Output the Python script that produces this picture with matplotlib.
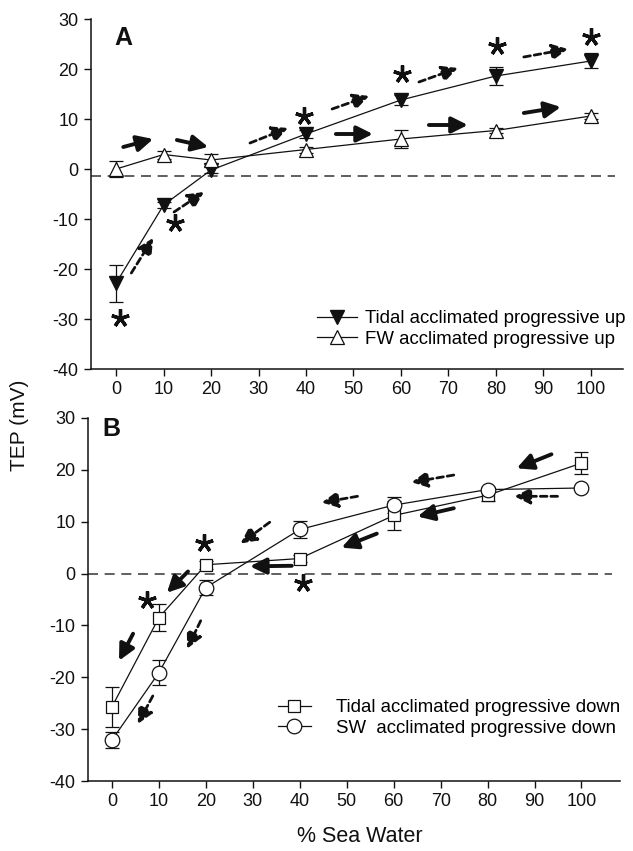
import matplotlib
matplotlib.use("Agg")
import matplotlib.pyplot as plt
from matplotlib.lines import Line2D

plt.rcParams['font.family'] = ['Liberation Sans', 'DejaVu Sans']
plt.rcParams['axes.unicode_minus'] = False

# ---------------- data ----------------
sea_water = [0, 10, 20, 40, 60, 80, 100]
x_ticks = [0, 10, 20, 30, 40, 50, 60, 70, 80, 90, 100]
y_ticks = [-40, -30, -20, -10, 0, 10, 20, 30]

# Panel A
tidal_up = [-22.8, -7.2, -0.2, 7.0, 13.8, 18.6, 21.6]
tidal_up_err = [3.7, 0.6, 0.6, 0.8, 1.0, 1.8, 1.5]
fw_up = [0.0, 2.9, 1.8, 3.9, 6.0, 7.7, 10.6]
fw_up_err = [1.6, 0.8, 1.2, 0.6, 1.8, 0.5, 0.6]
ref_line_A = -1.4

# Panel B
tidal_down = [-25.7, -8.5, 1.7, 2.9, 11.2, 15.1, 21.3]
tidal_down_err = [3.9, 2.6, 0.8, 0.6, 2.8, 1.2, 2.1]
sw_down = [-32.1, -19.1, -2.7, 8.5, 13.2, 16.2, 16.5]
sw_down_err = [1.5, 2.4, 1.5, 1.6, 1.5, 0.4, 0.4]
ref_line_B = 0.0

# annotations: arrows (x0, y0, x1, y1) in data coords, significance stars
arrows_A_solid = [(1.5, 4.4, 7.8, 6.0), (12.8, 5.8, 19.4, 4.4), (46.3, 7.0, 54.1, 7.0),
                  (65.9, 8.8, 74.1, 8.8), (85.9, 11.2, 93.7, 12.4)]
arrows_A_dashed = [(3.2, -20.8, 7.8, -13.8), (12.2, -8.6, 18.5, -4.6), (28.2, 5.2, 36.2, 8.2),
                   (45.5, 12.0, 53.3, 14.6), (63.8, 17.4, 72.0, 20.2), (85.9, 22.4, 95.2, 24.0)]
stars_A_x = [0.8, 12.4, 39.6, 60.2, 80.2, 100.0]
stars_A_y = [-29.8, -10.8, 10.6, 19.0, 24.6, 26.4]

arrows_B_solid = [(93.6, 23.0, 86.2, 20.3), (72.8, 12.6, 65.1, 11.0), (56.4, 7.7, 48.9, 5.0),
                  (38.3, 1.5, 29.4, 1.4), (16.2, 0.4, 11.7, -3.7), (4.5, -11.6, 1.5, -16.8)]
arrows_B_dashed = [(94.9, 14.9, 85.7, 14.9), (72.8, 19.0, 63.8, 17.6), (52.3, 14.9, 44.7, 13.7),
                   (33.6, 9.9, 27.4, 5.8), (18.9, -9.1, 16.0, -14.5), (8.7, -23.6, 5.5, -29.0)]
stars_B_x = [19.6, 7.4, 40.6]
stars_B_y = [5.8, -5.0, -1.9]

# ---------------- figure ----------------
W, H = 633, 851
fig = plt.figure(figsize=(W / 100, H / 100), dpi=100)

def px_axes(left, top, right, bottom):
    return fig.add_axes([left / W, 1 - bottom / H, (right - left) / W, (bottom - top) / H])

axA = px_axes(91, 19, 623, 369)
axB = px_axes(88, 418, 620, 781)

INK = '#111111'
TICK_FS = 13
LEG_FS = 13.4

def style_axis(ax, xlim):
    ax.set_xlim(*xlim)
    ax.set_ylim(-40, 30)
    ax.set_xticks(x_ticks)
    ax.set_yticks(y_ticks)
    for s in ['top', 'right']:
        ax.spines[s].set_visible(False)
    for s in ['left', 'bottom']:
        ax.spines[s].set_linewidth(1.1)
        ax.spines[s].set_color(INK)
    ax.tick_params(direction='out', length=5, width=1.0, labelsize=TICK_FS, colors=INK, pad=4)

def draw_arrows(ax, arrows, dashed):
    for (x0, y0, x1, y1) in arrows:
        if dashed:
            props = dict(arrowstyle='-|>,head_length=0.6,head_width=0.3', lw=2.0,
                         color=INK, shrinkA=0, shrinkB=0, mutation_scale=16,
                         linestyle=(0, (2.4, 1.4)))
        else:
            props = dict(arrowstyle='-|>,head_length=0.6,head_width=0.3', lw=2.8,
                         color=INK, shrinkA=0, shrinkB=0, mutation_scale=16)
        ax.annotate('', xy=(x1, y1), xytext=(x0, y0), arrowprops=props)

def draw_stars(ax, xs, ys):
    ax.plot(xs, ys, ls='none', marker=(5, 2, 0), ms=13, mew=2.4, color=INK, zorder=6)

# ---- Panel A ----
style_axis(axA, (-5.3, 106.8))
axA.axhline(ref_line_A, xmin=0, xmax=0.985, color='#444444', lw=1.2, dashes=(6, 4), zorder=1)
axA.errorbar(sea_water, tidal_up, yerr=tidal_up_err, color=INK, lw=0.9, marker='v', ms=10,
             mfc=INK, mec=INK, capsize=5, elinewidth=0.9, capthick=0.9, zorder=4,
             label='Tidal acclimated progressive up')
axA.errorbar(sea_water, fw_up, yerr=fw_up_err, color=INK, lw=0.9, marker='^', ms=10,
             mfc='white', mec=INK, mew=0.9, capsize=5, elinewidth=0.9, capthick=0.9, zorder=4,
             label='FW acclimated progressive up')
draw_arrows(axA, arrows_A_solid, False)
draw_arrows(axA, arrows_A_dashed, True)
draw_stars(axA, stars_A_x, stars_A_y)
axA.text(123 / W, 1 - 38 / H, 'A', transform=fig.transFigure, fontsize=18, fontweight='bold',
         ha='center', va='center', color=INK)

hA = [Line2D([], [], color=INK, lw=0.9, marker='v', ms=10, mfc=INK, mec=INK),
      Line2D([], [], color=INK, lw=0.9, marker='^', ms=10, mfc='white', mec=INK, mew=0.9)]
axA.legend(hA, ['Tidal acclimated progressive up', 'FW acclimated progressive up'],
           loc='center left', bbox_to_anchor=(317 / W, 1 - 329 / H), bbox_transform=fig.transFigure,
           frameon=False, fontsize=LEG_FS, borderpad=0, borderaxespad=0, handlelength=2.15,
           handletextpad=0.45, labelspacing=0.2)

# ---- Panel B ----
style_axis(axB, (-5.1, 108.2))
axB.axhline(ref_line_B, xmin=0, xmax=0.985, color='#444444', lw=1.2, dashes=(6, 4), zorder=1)
axB.errorbar(sea_water, tidal_down, yerr=tidal_down_err, color=INK, lw=0.9, marker='s', ms=9,
             mfc='white', mec=INK, mew=0.9, capsize=5, elinewidth=0.9, capthick=0.9, zorder=4)
axB.errorbar(sea_water, sw_down, yerr=sw_down_err, color=INK, lw=0.9, marker='o', ms=10.5,
             mfc='white', mec=INK, mew=0.9, capsize=5, elinewidth=0.9, capthick=0.9, zorder=4)
draw_arrows(axB, arrows_B_solid, False)
draw_arrows(axB, arrows_B_dashed, True)
draw_stars(axB, stars_B_x, stars_B_y)
axB.text(111 / W, 1 - 429 / H, 'B', transform=fig.transFigure, fontsize=18, fontweight='bold',
         ha='center', va='center', color=INK)

hB = [Line2D([], [], color=INK, lw=0.9, marker='s', ms=9, mfc='white', mec=INK, mew=0.9),
      Line2D([], [], color=INK, lw=0.9, marker='o', ms=10.5, mfc='white', mec=INK, mew=0.9)]
axB.legend(hB, ['Tidal acclimated progressive down', 'SW  acclimated progressive down'],
           loc='center left', bbox_to_anchor=(278 / W, 1 - 718 / H), bbox_transform=fig.transFigure,
           frameon=False, fontsize=LEG_FS, borderpad=0, borderaxespad=0, handlelength=1.75,
           handletextpad=1.35, labelspacing=0.2)

fig.text(20 / W, 0.5, 'TEP (mV)', rotation=90, ha='center', va='center', fontsize=15, color=INK)
fig.text(360 / W, 1 - 836 / H, '% Sea Water', ha='center', va='center', fontsize=15.5, color=INK)

fig.savefig('out.png', dpi=100)
